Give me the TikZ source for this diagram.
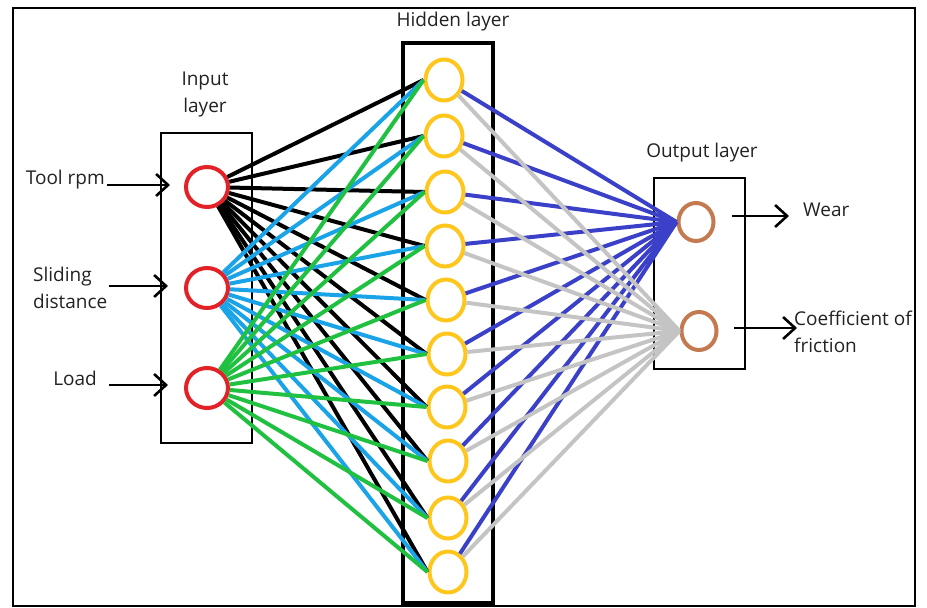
\documentclass[tikz,border=0pt]{standalone}
\usepackage{fontspec}
\setmainfont{Open Sans}
\usetikzlibrary{arrows.meta,shapes.geometric}
\definecolor{inred}{HTML}{E32228}
\definecolor{hidyel}{HTML}{FFC61E}
\definecolor{outbrown}{HTML}{C47A50}
\definecolor{wsky}{HTML}{1BA3E8}
\definecolor{wgreen}{HTML}{20C040}
\definecolor{wblue}{HTML}{3A40C8}
\definecolor{wgray}{HTML}{C4C4C4}
\definecolor{txt}{HTML}{222222}
\begin{document}
\begin{tikzpicture}[x=1pt,y=-1pt,
  lbl/.style={font=\fontsize{19}{27}\selectfont, text=txt, inner sep=0pt, align=center},
  inneuron/.style={ellipse, draw=inred, line width=4pt, minimum width=42pt, minimum height=40pt, inner sep=0pt},
  hidneuron/.style={ellipse, draw=hidyel, line width=4pt, minimum width=37pt, minimum height=41pt, inner sep=0pt},
  outneuron/.style={ellipse, draw=outbrown, line width=4pt, minimum width=35pt, minimum height=38pt, inner sep=0pt},
  layerbox/.style={draw, line width=2.2pt, inner sep=0pt},
  weight/.style={line width=4pt},
  arr/.style={line width=2.6pt, -{Straight Barb[length=12pt,width=22pt]}}]
\useasboundingbox (0,0) rectangle (927,608);
% outer frame
\draw[line width=1.6pt] (13,8) rectangle (915,606);

% layer boxes
\node[layerbox, minimum width=91pt, minimum height=310pt] (inbox) at (206.5,288) {};
\node[layerbox, line width=4pt, minimum width=90pt, minimum height=560pt] (hidbox) at (448,323) {};
\node[layerbox, minimum width=91pt, minimum height=191pt] (outbox) at (699.5,273.5) {};

% layer titles
\node[lbl] (tin) at (205,94) {Input\\layer};
\node[lbl] (thid) at (453,22) {Hidden layer};
\node[lbl] (tout) at (702,153) {Output layer};

% neurons
\node[inneuron] (i1) at (207,187) {};
\node[inneuron] (i2) at (207,288) {};
\node[inneuron] (i3) at (207,388) {};
\foreach \k/\x/\y in {1/444/80, 2/444/136, 3/445/192, 4/445/246, 5/446/300,
                      6/447/354, 7/447/407, 8/448/461, 9/448/518, 10/448/572}
  \node[hidneuron] (h\k) at (\x,\y) {};
\node[outneuron] (o1) at (696,222) {};
\node[outneuron] (o2) at (699,331) {};

% weights: input to hidden
\foreach \k in {1,...,10} \draw[weight, black] (i1) -- (h\k.west);
\foreach \k in {1,...,10} \draw[weight, wsky] (i2) -- (h\k.west);
\foreach \k in {1,...,10} \draw[weight, wgreen] (i3) -- (h\k.west);
% weights: hidden to output
\foreach \k in {1,...,10} \draw[weight, wblue] (h\k) -- (o1.west);
\foreach \k in {1,...,10} \draw[weight, wgray] (h\k) -- (o2.west);

% input labels and arrows
\node[lbl, anchor=east] (l1) at (105,180) {Tool rpm};
\node[lbl, anchor=west, align=left] (l2) at (33,288) {Sliding\\distance};
\node[lbl, anchor=east] (l3) at (97,378) {Load};
\coordinate (s1) at (107,185);
\coordinate (a1) at (170,185);
\coordinate (s2) at (109,286);
\coordinate (a2) at (168,286);
\coordinate (s3) at (109,385);
\coordinate (a3) at (168,385);
\draw[arr] (s1) -- (a1);
\draw[arr] (s2) -- (a2);
\draw[arr] (s3) -- (a3);

% output labels and arrows
\coordinate (s4) at (732,216);
\coordinate (b4) at (789,216);
\coordinate (s5) at (734,328);
\coordinate (b5) at (797,328);
\draw[arr] (s4) -- (b4);
\draw[arr] (s5) -- (b5);
\node[lbl, anchor=west] (r1) at (803,210) {Wear};
\node[lbl, anchor=west, align=left] (r2) at (794,332) {Coefficient of\\friction};
\end{tikzpicture}
\end{document}
